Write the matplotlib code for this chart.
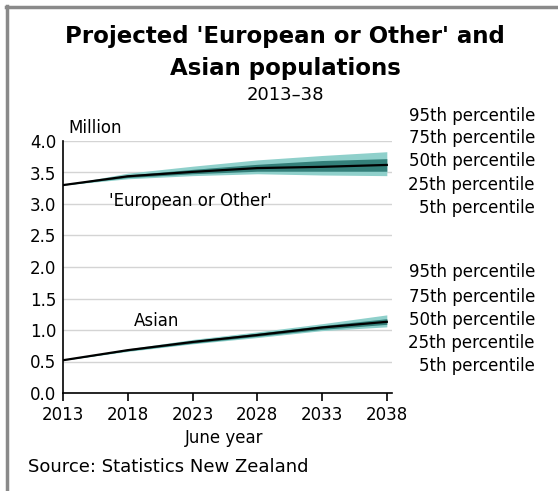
import matplotlib
matplotlib.use('Agg')
import matplotlib.pyplot as plt
from matplotlib.lines import Line2D

years = [2013, 2018, 2023, 2028, 2033, 2038]

# 'European or Other' (million)
eur_p50 = [3.30, 3.44, 3.51, 3.57, 3.59, 3.62]
eur_p25 = [3.30, 3.42, 3.48, 3.52, 3.52, 3.52]
eur_p75 = [3.30, 3.46, 3.55, 3.63, 3.69, 3.72]
eur_p5 = [3.30, 3.40, 3.45, 3.48, 3.46, 3.45]
eur_p95 = [3.30, 3.49, 3.60, 3.70, 3.77, 3.83]

# Asian (million)
asn_p50 = [0.52, 0.68, 0.81, 0.92, 1.04, 1.13]
asn_p25 = [0.52, 0.67, 0.79, 0.90, 1.01, 1.09]
asn_p75 = [0.52, 0.69, 0.83, 0.95, 1.07, 1.18]
asn_p5 = [0.52, 0.66, 0.78, 0.88, 0.99, 1.05]
asn_p95 = [0.52, 0.70, 0.85, 0.97, 1.10, 1.24]

pct_labels = ['95th percentile', '75th percentile', '50th percentile',
              '25th percentile', '5th percentile']

W, H = 558, 491
plt.rcParams['font.family'] = ['DejaVu Sans']

fig = plt.figure(figsize=(W / 100, H / 100), dpi=100)


def px(x, y):
    return x / W, 1 - y / H


ax = fig.add_axes([63 / W, 1 - 393 / H, (392 - 63) / W, (393 - 141) / H])

outer_c = '#8fd0cb'
inner_c = '#34807a'
for p5, p25, p50, p75, p95 in [(eur_p5, eur_p25, eur_p50, eur_p75, eur_p95),
                              (asn_p5, asn_p25, asn_p50, asn_p75, asn_p95)]:
    ax.fill_between(years, p5, p95, color=outer_c, lw=0, zorder=2)
    ax.fill_between(years, p25, p75, color=inner_c, lw=0, zorder=3)
    ax.plot(years, p50, color='black', lw=1.6, zorder=4)

ax.set_xlim(2013, 2038.4)
ax.set_ylim(0, 4.0)
ax.set_xticks(years)
ax.set_yticks([0, 0.5, 1.0, 1.5, 2.0, 2.5, 3.0, 3.5, 4.0])
ax.set_yticklabels(['%.1f' % v for v in ax.get_yticks()])
ax.grid(axis='y', color='#d4d4d4', lw=1)
ax.set_axisbelow(True)
for s in ['top', 'right']:
    ax.spines[s].set_visible(False)
ax.spines['left'].set_linewidth(1.2)
ax.spines['bottom'].set_linewidth(1.2)
ax.tick_params(axis='y', length=0, pad=5, labelsize=12)
ax.tick_params(axis='x', direction='out', length=6, width=1.2, pad=3, labelsize=12)

ax.text(2022.8, 3.05, "'European or Other'", fontsize=12, ha='center', va='center')
ax.text(2020.2, 1.15, 'Asian', fontsize=12, ha='center', va='center')

fig.text(*px(285, 37), "Projected 'European or Other' and", fontsize=16.5,
         fontweight='bold', ha='center', va='center')
fig.text(*px(285, 68), 'Asian populations', fontsize=16.5,
         fontweight='bold', ha='center', va='center')
fig.text(*px(285, 95), '2013\u201338', fontsize=13, ha='center', va='center')
fig.text(*px(68, 128), 'Million', fontsize=12, ha='left', va='center')

for lab, y in zip(pct_labels, [116, 138, 161, 185, 208]):
    fig.text(*px(535, y), lab, fontsize=12, ha='right', va='center')
for lab, y in zip(pct_labels, [272, 297, 320, 343, 366]):
    fig.text(*px(535, y), lab, fontsize=12, ha='right', va='center')

fig.text(*px(224, 438), 'June year', fontsize=12, ha='center', va='center')
fig.text(*px(28, 467), 'Source: Statistics New Zealand', fontsize=13,
         ha='left', va='center')

# grey frame on top and left
fig.add_artist(Line2D([7 / W, 7 / W], [0, 1 - 6 / H], color='#8a8a8a', lw=2.5))
fig.add_artist(Line2D([6 / W, 1], [1 - 7 / H, 1 - 7 / H], color='#8a8a8a', lw=2.5))

fig.savefig('out.png', dpi=100)
